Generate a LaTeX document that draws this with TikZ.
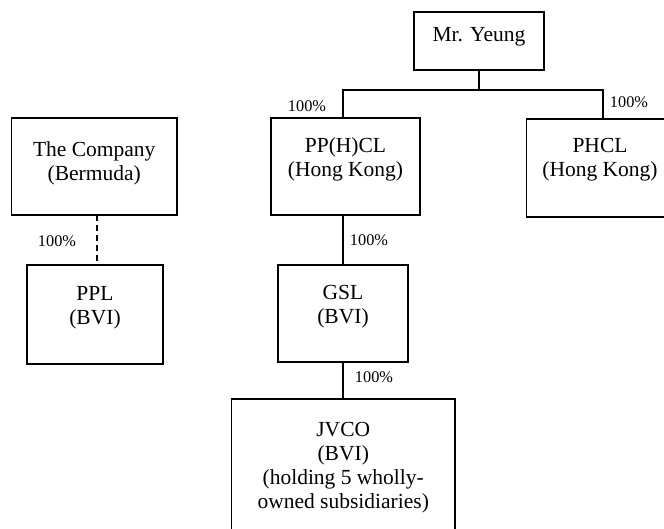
\documentclass[tikz,border=0pt]{standalone}
\usepackage{fontspec}
\setmainfont{Liberation Serif}
\tikzset{
  box/.style={draw, line width=1.1pt, inner sep=0pt, outer sep=0pt, font=\fontsize{21.5}{24}\selectfont},
  pct/.style={inner sep=0pt, anchor=base, font=\fontsize{16.3}{18}\selectfont},
  conn/.style={line width=1.1pt},
  dconn/.style={line width=1.1pt, dash pattern=on 6pt off 4pt}
}
\newcommand{\boxtext}[4]{\parbox[c][#2pt][t]{#1pt}{\centering\rule{0pt}{#3pt}#4}}
\begin{document}
\begin{tikzpicture}[x=1pt,y=-1pt]
\useasboundingbox (0,0) rectangle (664,529);
% boxes
\node[box] (yeung)   at (479,41)      {\boxtext{130}{58}{30}{Mr. Yeung}};
\node[box] (company) at (94.25,166.5) {\boxtext{165.5}{97}{39}{The Company\\(Bermuda)}};
\node[box] (pphcl)   at (345.5,166.5) {\boxtext{149}{97}{35}{PP(H)CL\\(Hong Kong)}};
\node[box] (phcl)    at (600,168)     {\boxtext{147}{98}{34}{PHCL\\(Hong Kong)}};
\node[box] (ppl)     at (95,314.5)    {\boxtext{136}{99}{35}{PPL\\(BVI)}};
\node[box] (gsl)     at (343,313.5)   {\boxtext{130}{97}{35}{GSL\\(BVI)}};
\node[box] (jvco)    at (343.25,469)  {\boxtext{223.5}{140}{37}{JVCO\\(BVI)\\(holding 5 wholly-\\owned subsidiaries)}};
% connectors
\coordinate (barL) at (343,90);
\coordinate (barR) at (603,90);
\coordinate (dx) at (97,240);
\draw[conn] (yeung.south) -- (yeung.south |- barL);
\draw[conn] (pphcl.north -| barL) -- (barL) -- (barR) -- (phcl.north -| barR);
\draw[conn] (pphcl.south -| barL) -- (gsl.north -| barL);
\draw[conn] (gsl.south -| barL) -- (jvco.north -| barL);
\draw[dconn] (company.south -| dx) -- (ppl.north -| dx);
% labels
\node[pct] (l1) at (307,111.5) {100\%};
\node[pct] (l2) at (629,107.3) {100\%};
\node[pct] (l3) at (57,246.5) {100\%};
\node[pct] (l4) at (369,245.5) {100\%};
\node[pct] (l5) at (374,382.5) {100\%};
\end{tikzpicture}
\end{document}
